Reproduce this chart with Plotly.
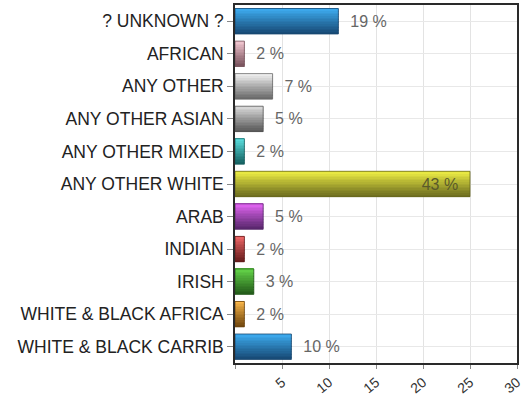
import plotly.graph_objects as go

# Counts per ethnicity group (bar length) -- percentage labels are derived from these
categories = [
    "? UNKNOWN ?", "AFRICAN", "ANY OTHER", "ANY OTHER ASIAN", "ANY OTHER MIXED",
    "ANY OTHER WHITE", "ARAB", "INDIAN", "IRISH", "WHITE & BLACK AFRICA",
    "WHITE & BLACK CARRIB",
]
counts = [11, 1, 4, 3, 1, 25, 3, 1, 2, 1, 6]

# light (top) / dark (bottom) shades of each bar's gradient
top_colors = [
    "#3fb0f5", "#f8ccd6", "#f6f6f6", "#e2e2e2", "#5ee3e3",
    "#f4f446", "#e868f8", "#f46a6a", "#66d84a", "#fbb84a", "#3fb0f5",
]
bottom_colors = [
    "#184c78", "#7c5660", "#6e6e6e", "#5c5c5c", "#176565",
    "#707020", "#5c2870", "#6a1e1e", "#255f1b", "#754a10", "#184c78",
]

x_ticks = [0, 5, 10, 15, 20, 25, 30]

total = sum(counts)
pct_labels = [f"{round(100 * c / total)} %" for c in counts]


def hex_to_rgb(h):
    h = h.lstrip("#")
    return tuple(int(h[i:i + 2], 16) for i in (0, 2, 4))


def mix(c1, c2, t):
    a, b = hex_to_rgb(c1), hex_to_rgb(c2)
    return "rgb({},{},{})".format(*[round(a[k] + (b[k] - a[k]) * t) for k in range(3)])


BAR_W = 0.78
N_SLICES = 16
slice_w = BAR_W / N_SLICES

fig = go.Figure()

# vertical gradient: stack thin horizontal slices across the bar thickness
for i in range(N_SLICES):
    t = (i / (N_SLICES - 1)) ** 0.9
    fig.add_trace(go.Bar(
        x=counts, y=categories, orientation="h",
        width=slice_w * 1.08, offset=-BAR_W / 2 + i * slice_w,
        marker=dict(color=[mix(a, b, t) for a, b in zip(top_colors, bottom_colors)],
                    line=dict(width=0)),
        hoverinfo="skip", showlegend=False,
    ))

# outline + percentage labels (largest bar carries its label inside)
max_c = max(counts)
label_text = [f"{p}  " if c == max_c else f"  {p}" for p, c in zip(pct_labels, counts)]
fig.add_trace(go.Bar(
    x=counts, y=categories, orientation="h",
    width=BAR_W, offset=-BAR_W / 2,
    marker=dict(color="rgba(0,0,0,0)",
                line=dict(color=[mix(b, "#000000", 0.1) for b in bottom_colors], width=0.8)),
    text=label_text,
    textposition=["inside" if c == max_c else "outside" for c in counts],
    insidetextanchor="end",
    textfont=dict(family="Liberation Sans, Arial", size=16,
                  color=["#5a5a2a" if c == max_c else "#666666" for c in counts]),
    cliponaxis=False, showlegend=False,
))

fig.update_layout(
    width=522, height=396,
    margin=dict(l=235, r=5, t=5, b=33, autoexpand=False),
    barmode="overlay",
    plot_bgcolor="white", paper_bgcolor="white",
    font=dict(family="Liberation Sans, Arial", color="#222222"),
)

fig.update_xaxes(
    range=[0, 30], tickvals=x_ticks,
    ticktext=["" if v == 0 else str(v) for v in x_ticks],
    tickangle=-40, tickfont=dict(size=14, color="#333333"),
    ticklabeloverflow="allow",
    ticks="outside", ticklen=4, tickcolor="#888888",
    showgrid=True, gridcolor="#e3e3e3", gridwidth=1,
    showline=True, linecolor="#2a2a2a", linewidth=1.5, mirror=True,
    zeroline=False, fixedrange=True,
)
fig.update_yaxes(
    type="category", autorange="reversed",
    tickfont=dict(size=17.5, color="#222222"),
    ticks="outside", ticklen=6, tickcolor="#888888",
    showgrid=True, gridcolor="#e8e8e8", gridwidth=1,
    showline=True, linecolor="#2a2a2a", linewidth=1.5, mirror=True,
    zeroline=False, fixedrange=True,
)

fig.write_html("out.html")
